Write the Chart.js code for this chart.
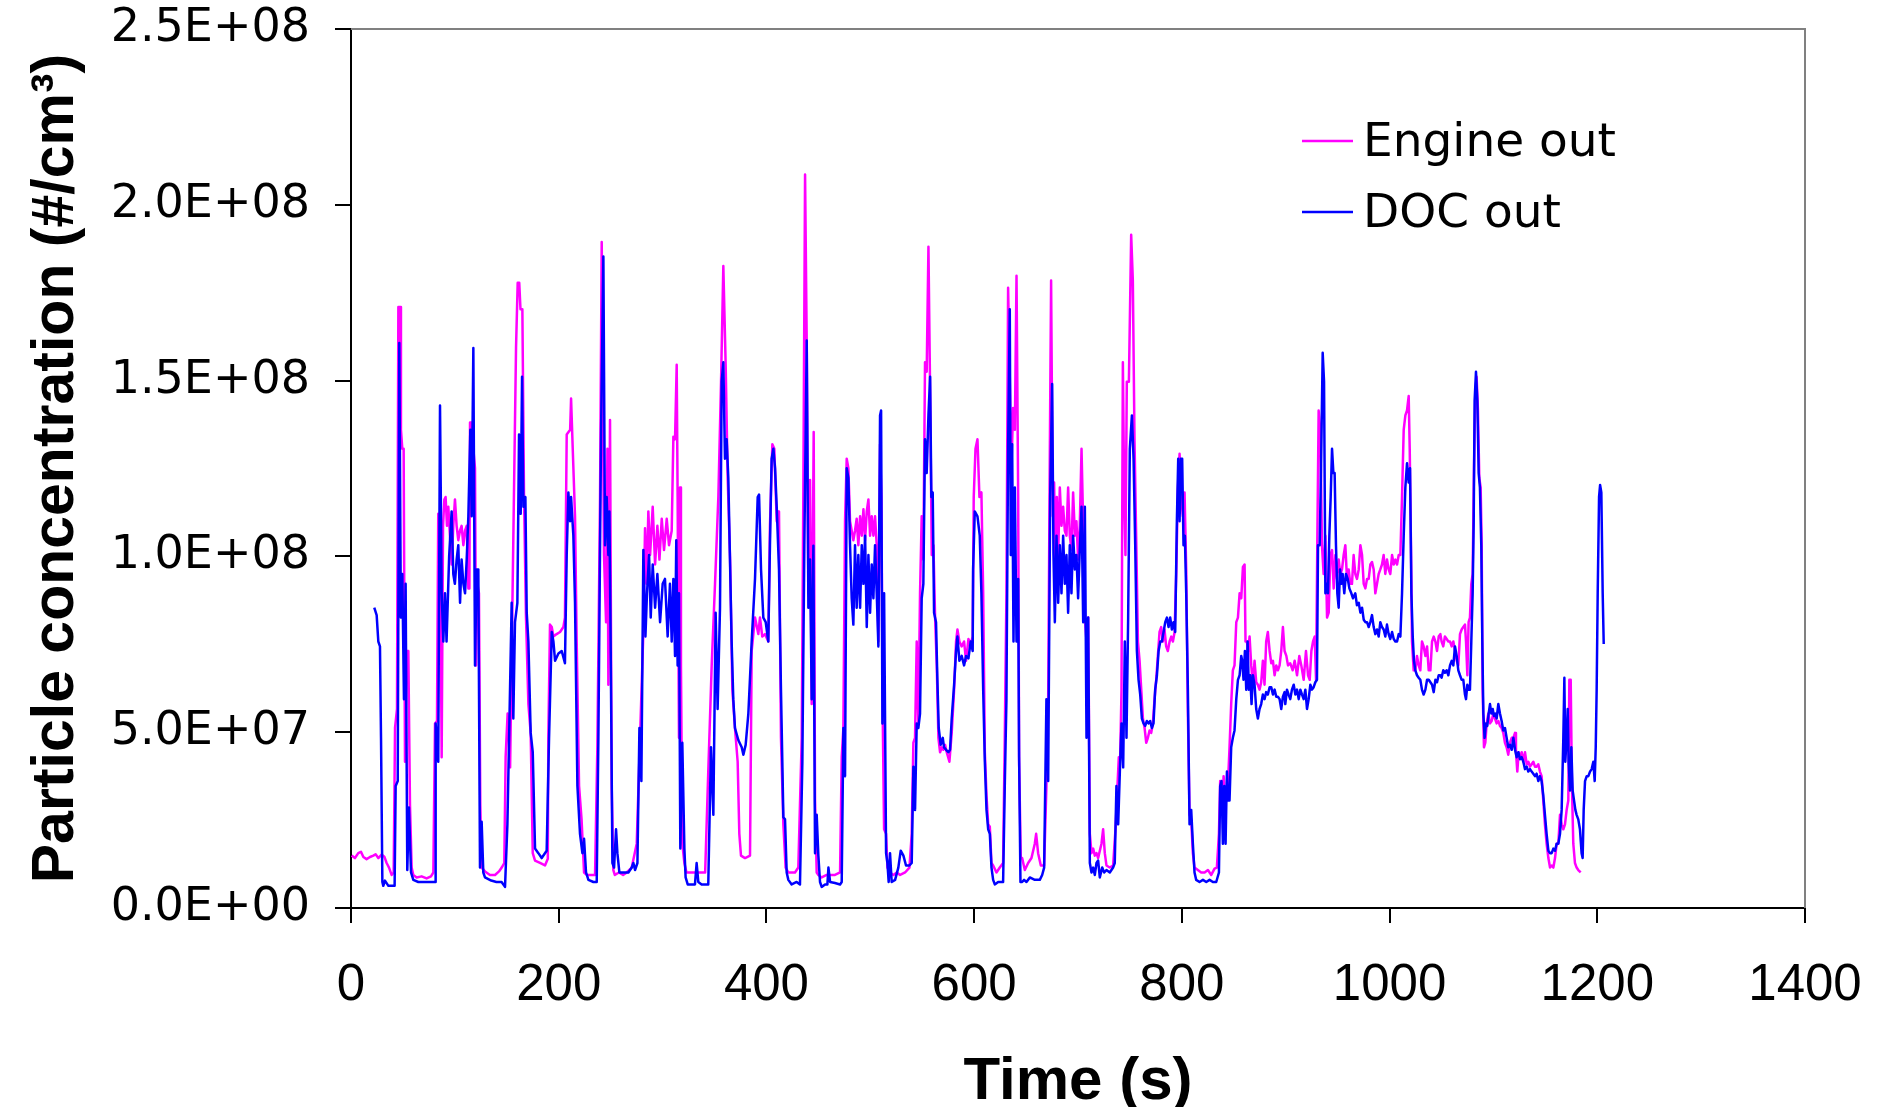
<!DOCTYPE html>
<html>
<head>
<meta charset="utf-8">
<script src="https://cdn.jsdelivr.net/npm/chart.js@4.4.1/dist/chart.umd.min.js"></script>
<style>
  html, body { margin: 0; padding: 0; background: #ffffff; }
  canvas { display: block; }
</style>
</head>
<body>
<canvas id="chart" width="1881" height="1107"></canvas>
<script>
// Particle concentration over the test cycle.
// Each sample is [time in s, concentration in millions of particles per cm³].
const engineOut = [
  [0.6,14.9],[3.8,14.2],[7.0,15.6],[9.6,16.0],[11.9,14.5],[15.0,13.9],[18.3,14.5],[21.5,14.9],[23.7,15.3],[26.3,14.2],
  [29.5,15.2],[32.1,14.6],[34.3,12.8],[36.6,11.5],[39.1,9.4],[41.1,10.1],[42.4,51.2],[44.3,56.6],[45.6,170.9],[47.2,170.9],
  [48.1,136.0],[49.4,130.6],[50.7,130.6],[52.0,41.6],[53.6,73.1],[55.2,73.1],[56.8,29.2],[58.4,11.5],[60.0,9.4],[63.2,8.7],
  [68.0,9.0],[72.8,8.4],[77.0,9.0],[79.3,10.1],[80.9,52.5],[82.8,53.2],[84.0,112.1],[85.7,108.7],[87.3,42.9],[88.6,108.7],
  [89.9,116.2],[91.1,116.9],[92.4,108.7],[93.7,114.1],[95.3,105.9],[96.9,97.7],[98.5,108.7],[100.1,116.2],[101.7,108.7],[103.3,104.6],
  [104.9,107.3],[106.5,108.7],[108.2,103.2],[109.8,107.3],[111.4,108.7],[113.0,90.9],[114.0,90.9],[114.6,138.1],[116.2,138.1],[117.8,130.6],
  [119.4,125.1],[120.4,69.0],[121.6,92.2],[123.2,89.5],[124.5,29.2],[125.8,11.5],[129.0,10.4],[133.8,9.4],[138.7,9.4],[142.5,10.4],
  [145.1,11.5],[147.6,12.8],[148.9,42.9],[150.8,55.3],[153.2,40.0],[156.3,105.2],[158.9,159.3],[160.5,177.8],[162.0,177.8],[163.2,170.3],
  [165.0,170.3],[166.6,116.9],[168.5,82.6],[170.8,58.0],[173.0,49.8],[175.0,15.6],[177.2,13.5],[182.0,12.8],[186.8,12.1],[189.5,14.0],
  [190.0,48.4],[191.6,80.6],[193.3,79.9],[194.9,77.2],[198.0,77.9],[201.3,78.5],[204.5,79.9],[206.0,82.6],[207.7,134.7],[211.0,136.0],
  [211.9,144.9],[213.5,130.6],[215.7,111.4],[217.3,75.8],[219.6,34.7],[222.0,25.2],[224.4,10.1],[227.0,9.4],[231.0,9.4],[235.0,9.4],
  [237.2,45.7],[239.8,116.9],[241.4,189.4],[243.6,100.4],[245.6,81.3],[246.9,130.6],[247.8,63.5],[249.4,138.8],[251.0,34.7],[252.6,10.8],
  [254.0,9.4],[258.0,10.1],[262.0,9.4],[265.5,10.1],[270.3,11.5],[275.1,18.3],[278.3,48.4],[281.5,78.5],[283.1,108.0],[284.7,92.2],
  [286.3,112.8],[288.0,100.4],[290.5,114.1],[292.8,97.7],[295.0,108.7],[297.0,99.1],[299.2,110.7],[301.4,101.8],[304.0,110.7],[306.2,103.2],
  [308.8,107.3],[310.4,134.0],[312.0,133.3],[313.6,154.5],[314.5,116.9],[315.8,48.4],[316.8,119.6],[317.7,69.0],[319.0,18.3],[321.0,12.8],
  [323.0,10.1],[330.0,10.1],[337.0,10.1],[341.0,10.1],[344.0,38.8],[347.3,69.0],[350.5,92.2],[353.7,116.9],[356.3,149.7],[358.5,182.6],
  [360.8,153.8],[362.7,122.3],[365.0,99.1],[367.2,62.1],[369.7,51.2],[372.3,41.6],[373.9,21.1],[375.5,14.9],[379.4,14.2],[384.2,14.9],
  [385.8,73.1],[389.0,82.6],[392.2,77.9],[393.8,82.6],[396.0,77.2],[398.6,77.9],[401.8,75.8],[403.4,108.7],[405.7,131.9],[407.6,130.6],
  [409.9,110.0],[412.1,112.8],[414.0,48.4],[416.3,23.8],[418.5,11.5],[421.1,10.1],[427.5,10.1],[430.7,11.5],[434.0,48.4],[435.5,116.9],
  [437.2,208.6],[438.8,160.7],[440.4,89.5],[442.0,121.7],[443.6,58.0],[445.5,135.4],[446.8,30.6],[448.4,10.1],[450.0,9.4],[453.2,8.7],
  [458.0,9.4],[461.3,9.4],[466.0,9.4],[470.9,10.1],[472.5,42.9],[474.1,51.2],[475.7,110.0],[477.3,127.8],[478.9,125.1],[480.5,110.0],
  [482.1,107.3],[483.7,104.6],[485.3,107.3],[486.9,110.7],[488.5,103.2],[490.2,111.4],[491.8,105.9],[493.4,113.4],[495.0,104.6],[496.6,112.8],
  [498.2,116.2],[499.8,105.9],[501.4,111.4],[503.0,105.9],[504.6,111.4],[506.2,103.2],[507.8,75.8],[509.4,131.9],[510.7,116.9],[512.0,53.9],
  [513.3,22.4],[515.2,21.1],[516.5,11.5],[519.0,10.1],[522.3,9.4],[525.5,10.1],[528.7,9.4],[533.5,10.1],[537.7,11.5],[539.9,21.1],
  [541.5,47.0],[543.1,48.4],[544.7,75.8],[546.3,52.5],[547.9,89.5],[549.5,111.4],[551.1,99.1],[552.7,155.2],[554.3,152.5],[556.0,188.1],
  [557.6,147.0],[559.2,100.4],[560.8,103.2],[562.4,82.6],[564.0,69.0],[565.6,48.4],[567.2,44.3],[568.8,45.7],[570.4,45.0],[572.0,46.4],
  [573.6,44.3],[576.2,41.6],[578.4,49.8],[580.7,62.1],[582.6,75.8],[583.9,79.2],[585.8,75.8],[588.0,74.4],[590.3,75.8],[592.2,70.3],
  [594.5,76.5],[596.7,75.1],[598.6,77.2],[599.6,116.9],[601.3,130.6],[603.2,133.3],[605.1,116.9],[607.0,118.2],[608.7,89.5],[610.3,44.3],
  [611.9,32.0],[613.5,23.8],[615.1,23.1],[616.7,12.8],[618.3,12.1],[621.5,10.1],[624.7,11.5],[627.9,12.8],[629.5,48.4],[631.1,89.5],
  [632.7,176.4],[634.3,151.1],[635.9,125.1],[637.5,142.2],[639.2,136.0],[640.8,179.8],[642.4,116.9],[643.3,41.6],[644.9,14.2],[646.2,14.2],
  [648.8,10.8],[652.0,12.8],[655.2,14.2],[658.4,18.3],[659.7,21.1],[661.6,15.6],[664.2,12.1],[667.4,12.1],[669.6,34.7],[671.3,59.4],
  [672.9,130.6],[674.1,178.5],[675.7,111.4],[677.0,121.0],[678.3,96.3],[679.6,116.9],[680.9,100.4],[682.5,119.6],[684.1,108.7],[685.7,114.1],
  [687.3,107.3],[688.9,105.9],[690.5,119.6],[692.1,105.9],[693.7,101.8],[695.3,118.2],[697.0,105.9],[698.5,110.0],[700.1,99.1],[701.7,108.7],
  [703.4,130.6],[705.0,108.7],[706.6,82.6],[708.2,75.8],[709.8,82.6],[711.4,21.1],[713.0,15.6],[714.6,16.9],[716.2,14.9],[717.8,15.6],
  [719.4,14.2],[722.6,18.3],[724.2,22.4],[725.8,15.6],[727.4,12.1],[730.6,11.5],[733.8,12.1],[736.1,22.4],[738.0,34.7],[739.3,42.9],
  [740.6,42.9],[741.9,62.1],[743.2,155.2],[744.4,120.0],[745.7,100.4],[747.0,149.7],[749.0,149.7],[751.2,191.5],[752.8,178.5],[754.4,133.3],
  [756.0,105.9],[757.7,75.8],[759.3,70.3],[760.9,62.1],[762.5,53.9],[764.1,51.2],[765.7,47.0],[767.3,48.4],[768.9,50.5],[770.5,49.8],
  [772.1,52.5],[773.7,59.4],[775.3,64.9],[776.9,71.7],[778.5,78.5],[780.1,79.9],[781.7,75.8],[783.3,79.2],[784.9,74.4],[786.5,73.1],
  [788.2,75.8],[789.8,77.2],[791.4,75.8],[793.0,78.5],[794.6,95.0],[796.2,119.6],[797.8,129.2],[799.4,116.9],[801.0,111.4],[802.6,118.2],
  [804.2,96.3],[805.8,55.3],[807.4,26.5],[809.0,25.2],[810.6,15.6],[812.2,11.5],[815.4,10.8],[818.6,10.1],[821.9,10.1],[825.1,10.8],
  [828.3,9.4],[831.5,11.2],[833.7,11.5],[835.7,21.1],[836.9,36.1],[838.9,29.2],[840.2,37.5],[842.1,30.6],[844.3,34.7],[845.9,45.7],
  [847.5,58.0],[849.1,67.6],[850.7,69.0],[852.4,81.3],[854.0,82.6],[855.6,89.5],[857.2,88.1],[858.8,97.0],[860.4,97.7],[861.3,75.8],
  [862.6,75.8],[863.9,73.1],[865.2,77.2],[866.8,69.0],[868.4,63.5],[870.0,70.3],[871.6,64.2],[873.2,63.5],[874.8,62.1],[876.4,64.2],
  [878.0,70.3],[879.6,63.5],[881.2,75.8],[882.8,78.5],[884.5,73.1],[886.1,69.6],[887.7,70.3],[889.3,66.2],[890.9,69.0],[892.5,67.6],
  [894.1,69.0],[895.7,73.1],[897.3,79.9],[898.9,73.1],[900.6,71.7],[902.2,69.0],[904.4,69.6],[906.7,67.6],[908.6,70.3],[910.9,66.2],
  [913.1,71.7],[915.0,69.0],[917.3,64.9],[919.5,73.1],[921.5,66.2],[923.1,64.9],[924.7,73.1],[926.3,75.8],[927.9,77.2],[929.2,64.9],
  [930.4,103.2],[931.7,141.5],[933.3,136.0],[934.9,103.2],[936.5,95.0],[938.2,105.9],[939.8,82.6],[941.4,84.0],[943.0,100.4],[944.6,101.8],
  [946.2,90.9],[947.8,100.4],[949.4,93.6],[951.0,99.1],[952.6,95.0],[954.2,96.3],[955.8,100.4],[957.4,103.2],[959.0,93.6],[960.6,96.3],
  [962.2,92.2],[963.8,92.2],[965.4,100.4],[967.0,95.0],[968.6,93.6],[970.3,96.3],[971.9,103.2],[973.5,100.4],[975.1,92.2],[976.7,90.9],
  [978.3,93.6],[979.9,93.6],[981.5,97.7],[983.1,98.4],[984.7,96.3],[986.3,89.5],[987.9,92.2],[989.5,95.0],[991.1,96.3],[992.7,97.7],
  [994.3,100.4],[995.9,95.0],[997.5,99.1],[999.1,96.3],[1000.7,95.0],[1002.4,100.4],[1004.0,97.7],[1005.6,99.1],[1007.2,97.7],[1008.8,100.4],
  [1010.4,100.4],[1012.0,116.9],[1013.6,136.0],[1015.2,140.1],[1016.8,141.5],[1018.4,145.6],[1019.4,130.6],[1020.6,103.2],[1021.6,75.8],[1023.2,67.6],
  [1024.8,67.6],[1026.4,71.7],[1028.0,69.0],[1029.6,67.6],[1031.2,75.8],[1032.8,74.4],[1034.5,71.7],[1036.1,74.4],[1037.7,67.6],[1039.3,67.6],
  [1040.9,75.8],[1042.5,77.2],[1044.1,75.8],[1045.7,73.1],[1047.3,77.2],[1048.9,77.9],[1050.1,75.8],[1051.7,74.4],[1053.3,77.2],[1055.0,76.5],
  [1056.6,75.8],[1058.2,75.8],[1059.8,74.4],[1061.4,75.8],[1063.0,73.1],[1064.6,70.3],[1066.2,69.0],[1067.8,77.9],[1069.4,79.2],[1071.0,79.9],
  [1072.6,80.6],[1073.6,75.8],[1074.9,66.2],[1076.1,81.3],[1077.4,82.6],[1078.7,92.2],[1080.0,95.0],[1081.3,125.1],[1082.6,147.0],[1083.8,151.1],
  [1085.1,141.5],[1086.4,122.3],[1087.7,119.6],[1088.7,103.2],[1089.6,62.1],[1090.9,45.7],[1092.2,47.0],[1093.5,52.5],[1095.1,55.3],[1096.7,52.5],
  [1098.3,53.2],[1099.9,55.3],[1101.5,53.9],[1103.1,52.5],[1104.7,53.2],[1106.3,51.8],[1107.9,51.2],[1109.5,49.8],[1111.1,47.0],[1112.7,45.7],
  [1114.3,43.6],[1115.9,47.0],[1117.6,48.4],[1119.2,48.4],[1120.8,49.8],[1121.7,44.3],[1123.0,38.8],[1124.3,44.3],[1125.6,42.9],[1127.2,44.3],
  [1128.8,41.6],[1130.4,44.3],[1132.0,40.9],[1133.6,41.6],[1135.2,40.2],[1136.8,40.9],[1138.4,41.6],[1140.0,40.2],[1141.6,40.2],[1143.2,40.9],
  [1144.8,38.8],[1146.4,37.5],[1148.0,30.6],[1149.6,23.8],[1151.2,18.3],[1152.9,14.2],[1154.5,11.5],[1156.1,12.1],[1157.7,11.5],[1159.3,14.2],
  [1160.9,18.3],[1162.5,18.3],[1164.1,26.5],[1165.7,23.8],[1167.3,22.4],[1168.9,23.8],[1170.5,27.9],[1172.1,30.6],[1173.1,64.9],[1174.4,64.9],
  [1175.6,34.7],[1176.9,18.3],[1178.5,12.8],[1180.1,11.5],[1181.7,10.8],[1184.0,10.1]
];

const docOut = [
  [22.4,85.4],[24.7,83.3],[26.3,75.8],[27.9,74.4],[28.9,48.4],[30.2,7.4],[31.1,6.3],[32.7,7.8],[36.0,6.3],[42.0,6.3],
  [43.0,34.7],[45.0,36.1],[46.5,160.7],[48.0,82.6],[49.4,95.0],[51.0,59.4],[52.6,92.2],[54.2,10.8],[55.8,28.6],[57.8,10.1],
  [60.0,8.0],[64.8,7.4],[72.0,7.4],[80.9,7.4],[81.5,52.5],[84.0,41.6],[85.7,142.9],[87.3,89.5],[88.9,75.8],[90.5,89.5],
  [92.0,75.8],[94.5,100.0],[96.9,112.8],[98.5,95.0],[100.0,92.2],[101.7,99.0],[103.3,103.2],[105.0,86.8],[106.5,99.1],[108.2,92.2],
  [109.8,89.5],[111.4,99.1],[113.0,111.4],[114.9,136.0],[116.2,111.4],[117.8,159.3],[119.4,69.0],[121.0,96.3],[122.6,96.3],[124.2,11.5],
  [125.8,24.5],[127.4,10.1],[129.0,8.7],[135.0,7.8],[140.0,7.4],[145.0,7.4],[148.3,6.0],[150.6,23.8],[152.5,52.5],[154.7,86.8],
  [156.3,53.9],[157.9,81.3],[160.2,86.8],[161.8,134.7],[163.4,112.1],[164.7,151.1],[166.0,114.1],[167.9,116.9],[169.2,84.0],[170.8,75.8],
  [173.0,49.8],[175.0,44.3],[177.2,16.9],[180.4,15.6],[183.6,14.2],[188.4,16.3],[190.7,48.4],[193.3,78.5],[194.9,75.8],[196.5,70.3],
  [199.7,72.4],[202.9,73.1],[206.0,69.6],[207.7,100.4],[209.3,118.2],[211.0,110.0],[211.9,116.9],[214.1,105.9],[215.7,86.8],[218.0,34.7],
  [220.5,21.1],[222.8,15.6],[224.4,19.7],[226.3,10.1],[228.6,8.0],[233.4,7.4],[236.6,7.4],[238.2,48.4],[240.8,136.0],[243.0,185.3],
  [244.6,103.2],[246.2,116.9],[247.8,100.4],[248.8,112.8],[250.0,75.8],[251.7,12.8],[253.3,11.5],[255.2,22.4],[256.5,15.6],[258.4,10.1],
  [262.3,10.1],[267.1,10.1],[270.3,11.5],[271.9,12.8],[273.5,10.8],[275.8,12.8],[277.7,51.2],[279.6,36.1],[281.5,101.8],[283.5,77.2],
  [285.0,89.5],[287.0,100.4],[288.6,82.6],[290.5,97.7],[292.8,85.4],[295.0,95.0],[297.6,81.3],[300.1,92.2],[302.3,93.6],[304.9,77.2],
  [307.1,92.2],[308.8,75.8],[310.4,93.6],[312.0,71.7],[313.2,104.6],[314.5,69.0],[315.8,89.5],[317.1,16.9],[319.0,47.0],[321.0,16.9],
  [322.2,8.7],[324.2,6.7],[328.0,6.7],[331.2,6.7],[332.8,12.8],[334.4,7.4],[337.6,6.7],[344.0,6.7],[346.6,45.7],[348.9,26.5],
  [351.1,84.0],[353.0,56.6],[355.3,85.4],[356.9,149.7],[358.5,155.2],[360.1,127.8],[361.7,133.3],[363.3,122.3],[365.0,97.7],[366.5,75.8],
  [368.1,59.4],[369.7,51.2],[373.0,47.7],[376.2,45.7],[377.8,43.6],[380.0,46.4],[382.6,55.3],[385.8,75.8],[389.0,93.6],[391.6,116.9],
  [392.9,117.6],[394.8,96.3],[397.0,82.6],[399.3,81.3],[401.8,75.8],[403.4,103.2],[405.0,127.8],[406.7,130.6],[408.3,125.1],[409.9,114.1],
  [412.1,96.3],[414.0,62.1],[416.3,25.8],[417.9,25.2],[419.5,10.1],[421.1,8.0],[424.3,6.7],[429.1,7.4],[432.3,6.7],[434.6,41.6],
  [436.5,103.2],[438.8,161.4],[440.4,85.4],[442.0,99.1],[443.6,59.4],[445.2,103.0],[446.8,15.6],[448.4,26.5],[450.0,14.9],[451.6,7.4],
  [453.2,6.0],[456.4,6.7],[458.7,6.7],[459.7,11.5],[461.3,7.4],[466.0,7.1],[470.9,6.7],[472.5,7.4],[474.1,51.2],[475.7,37.5],
  [477.3,125.1],[478.9,122.3],[480.5,103.2],[482.1,88.1],[483.7,80.6],[485.3,103.2],[486.9,85.4],[488.5,100.4],[490.2,85.4],[491.8,103.2],
  [493.4,92.2],[495.0,105.9],[496.6,79.9],[498.2,100.4],[499.8,84.0],[501.4,97.7],[503.0,88.1],[504.6,103.2],[506.2,89.5],[507.8,74.4],
  [509.4,140.1],[510.4,141.5],[511.7,52.5],[513.3,89.5],[515.2,15.6],[516.5,12.8],[517.7,7.4],[519.0,15.6],[520.6,7.4],[523.9,8.0],
  [527.0,11.5],[529.3,16.3],[531.9,14.9],[534.4,12.1],[537.7,12.1],[539.9,12.8],[541.5,40.2],[543.1,27.9],[544.7,52.5],[546.3,51.2],
  [547.9,55.3],[549.5,88.1],[551.1,92.2],[552.7,133.3],[554.3,123.7],[556.0,140.1],[557.6,151.1],[558.8,116.9],[560.1,118.2],[561.4,84.0],
  [563.3,81.3],[564.6,64.9],[565.9,51.2],[567.8,46.4],[569.8,48.4],[571.0,45.7],[573.0,45.0],[575.2,44.3],[576.8,45.0],[578.4,53.9],
  [580.7,63.5],[582.6,73.1],[583.9,77.2],[585.8,70.3],[588.0,71.7],[590.3,69.0],[592.2,71.7],[594.5,71.0],[596.7,75.8],[598.6,73.1],
  [599.0,96.3],[600.6,112.8],[603.2,111.4],[605.4,105.9],[607.0,89.5],[608.7,62.1],[610.3,41.6],[611.9,27.9],[613.5,22.4],[615.1,21.1],
  [616.7,11.5],[618.3,8.0],[619.9,6.7],[623.1,7.4],[627.9,7.4],[629.5,34.7],[631.1,59.4],[632.7,130.6],[634.3,170.3],[635.3,100.4],
  [636.6,131.9],[637.9,75.8],[639.2,119.6],[640.8,75.8],[642.4,93.6],[643.3,42.9],[644.6,7.4],[646.2,7.4],[648.1,8.0],[650.4,7.4],
  [653.6,8.7],[658.4,8.0],[663.2,8.0],[665.5,9.4],[667.4,11.5],[669.6,59.4],[671.3,36.1],[673.2,116.9],[675.1,149.0],[676.4,100.4],
  [677.7,81.3],[679.3,105.9],[680.9,86.8],[682.5,103.2],[684.1,89.5],[685.7,105.9],[687.3,92.2],[688.9,100.4],[690.5,84.0],[692.1,103.2],
  [693.7,89.5],[695.3,105.9],[697.0,96.3],[698.5,100.4],[700.1,88.1],[701.7,101.8],[703.4,114.1],[705.0,81.3],[706.6,114.1],[708.2,48.4],
  [709.8,82.6],[711.4,12.8],[713.0,10.1],[714.6,11.5],[716.2,9.4],[717.8,12.8],[719.4,13.5],[721.0,8.7],[723.3,11.5],[725.2,10.1],
  [727.4,10.8],[730.6,10.1],[733.8,11.5],[735.4,12.8],[737.0,34.7],[738.7,23.8],[740.3,38.8],[741.9,52.5],[743.5,40.0],[745.1,75.8],
  [746.7,48.4],[748.3,82.6],[749.9,130.6],[751.9,140.1],[753.5,127.8],[755.1,103.2],[756.7,73.1],[758.3,64.9],[759.9,60.7],[761.5,53.9],
  [763.1,52.5],[764.7,51.8],[766.3,53.2],[767.9,52.5],[769.5,53.2],[771.1,51.2],[772.7,52.5],[774.3,62.1],[776.0,66.2],[777.6,73.1],
  [779.2,75.8],[780.8,75.8],[782.4,78.5],[784.0,81.3],[785.6,82.6],[787.2,79.9],[788.8,82.6],[790.4,79.2],[792.0,81.3],[793.6,78.5],
  [795.2,110.0],[796.5,127.8],[797.8,110.0],[799.1,127.8],[800.3,127.8],[801.6,103.2],[802.9,105.9],[804.2,89.5],[805.8,62.1],[807.4,23.8],
  [809.0,27.9],[810.6,18.3],[812.2,10.1],[813.8,8.0],[817.0,7.4],[820.3,8.0],[823.5,7.4],[826.7,8.0],[829.9,7.4],[833.1,7.4],
  [835.7,10.1],[836.9,34.7],[838.2,36.1],[839.5,18.3],[840.8,34.7],[842.1,18.3],[843.4,38.8],[844.6,30.6],[845.9,30.6],[847.5,45.7],
  [849.1,48.4],[850.7,50.5],[852.4,59.4],[854.0,64.9],[855.6,66.2],[857.2,71.7],[858.1,70.3],[859.4,64.9],[860.7,73.1],[862.0,62.1],
  [863.3,75.8],[864.5,62.1],[865.8,66.2],[867.1,58.0],[868.4,66.2],[870.0,63.5],[871.6,56.6],[873.2,53.9],[874.8,56.6],[876.4,58.0],
  [878.0,60.7],[879.6,59.4],[881.2,61.4],[882.8,60.7],[884.5,62.8],[886.1,62.8],[887.7,60.7],[889.3,62.1],[890.9,60.1],[892.5,60.1],
  [894.1,59.4],[895.7,56.6],[897.3,60.1],[898.9,61.4],[899.6,58.0],[901.2,62.1],[902.8,60.7],[904.4,59.4],[906.0,62.1],[907.7,63.5],
  [909.3,60.7],[910.9,62.1],[912.5,59.4],[914.1,62.1],[915.7,60.7],[917.3,59.4],[918.9,62.1],[920.5,56.6],[922.1,59.4],[923.7,63.5],
  [925.3,62.1],[926.9,62.8],[928.5,64.2],[930.1,64.9],[931.1,103.2],[932.7,103.2],[934.0,125.1],[935.6,157.9],[936.9,149.7],[938.2,89.5],
  [939.4,92.2],[940.7,89.5],[942.0,105.9],[943.3,116.9],[944.6,130.6],[945.9,123.7],[947.1,123.7],[948.4,103.2],[949.7,89.5],[951.0,85.4],
  [952.3,96.3],[953.6,92.2],[954.8,95.0],[956.4,89.5],[958.0,95.0],[959.7,93.6],[961.3,90.9],[963.2,89.5],[964.8,88.1],[967.0,89.5],
  [968.6,86.1],[970.3,86.8],[971.9,84.0],[973.5,85.4],[975.1,82.0],[976.7,81.3],[978.3,81.3],[979.9,79.9],[981.5,81.3],[983.1,83.3],
  [984.7,79.9],[986.3,77.9],[987.9,79.2],[989.5,77.2],[991.1,81.3],[992.7,79.9],[994.3,79.2],[995.9,77.2],[997.5,80.6],[999.1,77.9],
  [1000.7,76.5],[1002.4,78.5],[1004.0,76.5],[1005.6,75.8],[1007.2,75.8],[1008.8,77.9],[1010.4,77.2],[1012.0,89.5],[1013.6,105.9],[1015.2,119.6],
  [1016.8,126.5],[1018.4,121.0],[1019.7,125.1],[1021.0,89.5],[1022.3,77.2],[1023.5,70.3],[1024.8,67.6],[1026.4,66.2],[1028.0,65.5],[1029.6,64.9],
  [1031.2,62.1],[1032.8,60.7],[1034.5,62.1],[1036.1,64.9],[1037.7,64.9],[1039.3,64.2],[1040.9,63.5],[1042.5,61.4],[1044.1,64.9],[1045.7,64.2],
  [1047.3,66.2],[1048.9,66.2],[1050.1,65.5],[1051.7,67.6],[1053.3,66.9],[1055.0,67.6],[1056.6,66.2],[1058.2,69.0],[1059.8,70.3],[1061.4,69.0],
  [1063.0,74.4],[1064.6,71.7],[1066.2,67.6],[1067.8,66.2],[1069.4,64.9],[1071.0,64.9],[1072.6,60.7],[1073.6,59.4],[1074.9,63.5],[1076.1,62.1],
  [1077.4,62.1],[1078.7,75.8],[1080.0,89.5],[1081.0,110.0],[1081.9,144.3],[1083.2,152.5],[1084.5,144.3],[1085.8,123.7],[1087.0,119.6],[1088.3,103.2],
  [1089.3,75.8],[1090.3,55.3],[1091.5,48.4],[1092.8,52.5],[1094.1,51.8],[1095.4,55.3],[1096.7,58.0],[1098.0,55.3],[1099.3,56.6],[1100.5,54.6],
  [1101.8,55.3],[1103.1,53.9],[1104.7,58.0],[1106.3,55.3],[1107.9,53.2],[1109.5,50.5],[1111.1,51.2],[1112.7,48.4],[1114.3,45.7],[1115.9,46.4],
  [1117.6,45.0],[1119.2,48.4],[1120.8,45.0],[1122.4,42.9],[1124.0,44.3],[1125.6,42.3],[1127.2,42.9],[1128.8,41.6],[1130.4,39.5],[1132.0,40.2],
  [1133.6,38.8],[1135.2,39.5],[1136.8,38.8],[1138.4,38.2],[1140.0,37.5],[1141.6,38.2],[1143.2,36.1],[1144.8,37.5],[1146.4,36.1],[1148.0,32.0],
  [1149.6,26.5],[1151.2,21.1],[1152.9,16.3],[1154.5,15.6],[1156.1,15.6],[1157.7,16.9],[1159.3,16.3],[1160.9,18.3],[1162.5,18.3],[1164.1,21.1],
  [1165.7,27.9],[1167.3,48.4],[1168.3,65.5],[1169.2,41.6],[1170.5,48.4],[1171.5,56.6],[1172.4,41.6],[1173.7,33.4],[1175.0,45.7],[1176.3,33.4],
  [1177.6,30.6],[1178.9,27.9],[1180.1,26.5],[1181.7,25.2],[1183.3,22.4],[1184.9,15.6],[1185.9,14.2],[1186.9,27.9],[1188.2,36.1],[1189.8,37.5],
  [1191.4,37.5],[1193.0,38.8],[1194.6,39.5],[1196.2,41.6],[1197.5,36.1],[1198.5,45.7],[1199.4,62.1],[1200.4,89.5],[1201.7,116.9],[1202.7,120.3],
  [1203.9,118.2],[1205.2,89.5],[1206.2,75.1]
];

const seriesNames = ['Engine out', 'DOC out'];
const seriesColors = ['#FF00FF', '#0000FF'];
const xTickLabels = ['0', '200', '400', '600', '800', '1000', '1200', '1400'];
const yTickLabels = ['0.0E+00', '5.0E+07', '1.0E+08', '1.5E+08', '2.0E+08', '2.5E+08'];
const xTitle = 'Time (s)';
const yTitle = 'Particle concentration (#/cm³)';
const MILLION = 1e6;

const toPoints = samples => samples.map(([t, v]) => ({ x: t, y: v * MILLION }));

// Grey frame along the top and right edges of the plot area.
const plotFrame = {
  id: 'plotFrame',
  beforeDatasetsDraw(chart) {
    const { ctx, chartArea: a } = chart;
    ctx.save();
    ctx.strokeStyle = '#808080';
    ctx.lineWidth = 2;
    ctx.beginPath();
    ctx.moveTo(a.left, a.top);
    ctx.lineTo(a.right, a.top);
    ctx.lineTo(a.right, a.bottom);
    ctx.stroke();
    ctx.restore();
  }
};

// Legend inside the plot area, top right.
const insideLegend = {
  id: 'insideLegend',
  afterDraw(chart) {
    const { ctx } = chart;
    const rows = [141, 212];
    ctx.save();
    ctx.font = '47px "DejaVu Sans", sans-serif';
    ctx.textBaseline = 'middle';
    ctx.textAlign = 'left';
    seriesNames.forEach((name, i) => {
      const y = rows[i];
      ctx.strokeStyle = seriesColors[i];
      ctx.lineWidth = 2.5;
      ctx.beginPath();
      ctx.moveTo(1302, y);
      ctx.lineTo(1353, y);
      ctx.stroke();
      ctx.fillStyle = '#000000';
      ctx.fillText(name, 1363, y + 3);
    });
    ctx.restore();
  }
};

new Chart(document.getElementById('chart'), {
  type: 'line',
  data: {
    datasets: [
      {
        label: seriesNames[0],
        data: toPoints(engineOut),
        borderColor: seriesColors[0],
        backgroundColor: seriesColors[0],
        borderWidth: 2.5,
        pointRadius: 0,
        fill: false,
        order: 2
      },
      {
        label: seriesNames[1],
        data: toPoints(docOut),
        borderColor: seriesColors[1],
        backgroundColor: seriesColors[1],
        borderWidth: 2.5,
        pointRadius: 0,
        fill: false,
        order: 1
      }
    ]
  },
  options: {
    responsive: false,
    animation: false,
    devicePixelRatio: 1,
    parsing: false,
    layout: { padding: { left: 0, top: 29, right: 76, bottom: 0 } },
    elements: { line: { tension: 0, borderJoinStyle: 'round' } },
    plugins: {
      legend: { display: false },
      tooltip: { enabled: false }
    },
    scales: {
      x: {
        type: 'linear',
        min: 0,
        max: 1400,
        ticks: {
          stepSize: 200,
          autoSkip: false,
          maxRotation: 0,
          padding: 32,
          color: '#000000',
          font: { family: '"Liberation Sans", Arial, sans-serif', size: 51 },
          callback: (value, index) => xTickLabels[index]
        },
        grid: { drawOnChartArea: false, drawTicks: true, tickLength: 15, color: '#000000', lineWidth: 2 },
        border: { display: true, color: '#000000', width: 2 },
        title: {
          display: true,
          text: xTitle,
          color: '#000000',
          font: { family: '"Liberation Sans", Arial, sans-serif', size: 60, weight: 'bold', lineHeight: 0.8 },
          padding: { top: 0, bottom: 1 }
        },
        afterFit(scale) {
          scale.height = 199;
          scale.paddingLeft = 0;
          scale.paddingRight = 0;
        }
      },
      y: {
        type: 'linear',
        min: 0,
        max: 2.5e8,
        ticks: {
          stepSize: 5e7,
          autoSkip: false,
          padding: 25,
          color: '#000000',
          font: { family: '"DejaVu Sans", sans-serif', size: 46 },
          callback: (value, index) => yTickLabels[index]
        },
        grid: { drawOnChartArea: false, drawTicks: true, tickLength: 16, color: '#000000', lineWidth: 2 },
        border: { display: true, color: '#000000', width: 2 },
        title: {
          display: true,
          text: yTitle,
          color: '#000000',
          font: { family: '"Liberation Sans", Arial, sans-serif', size: 59, weight: 'bold', lineHeight: 1.2 },
          padding: { top: 21, bottom: 0 }
        },
        afterFit(scale) {
          scale.width = 351;
          scale.paddingTop = 0;
          scale.paddingBottom = 0;
        }
      }
    }
  },
  plugins: [plotFrame, insideLegend]
});
</script>
</body>
</html>
